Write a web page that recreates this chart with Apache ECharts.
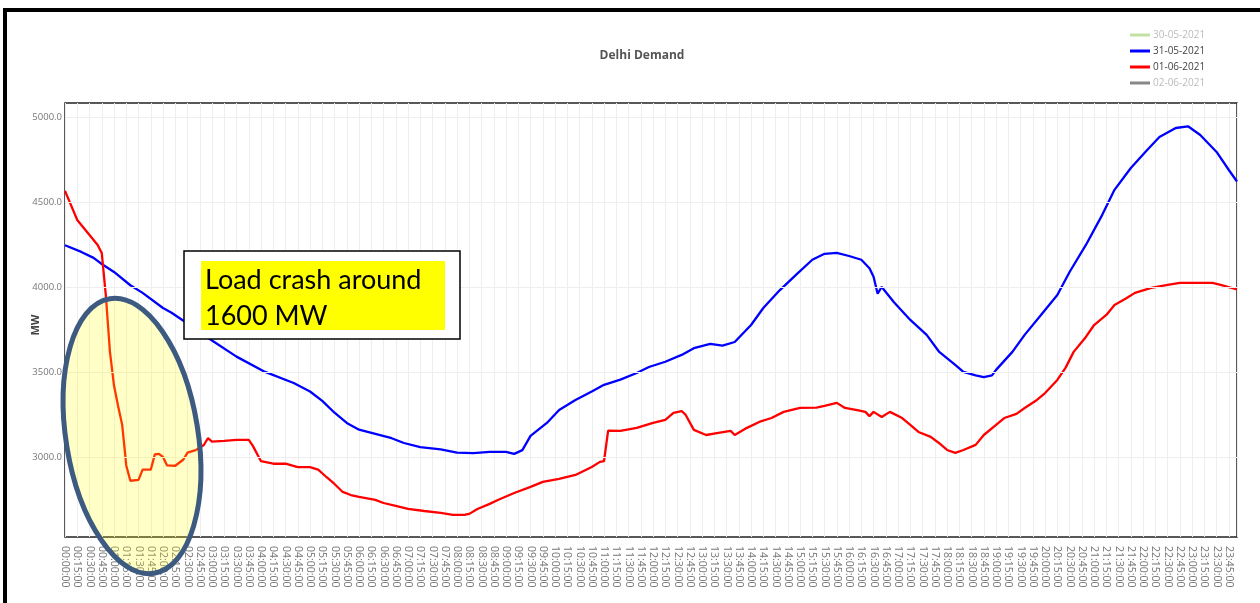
<!DOCTYPE html>
<html><head><meta charset="utf-8">
<script src="https://cdn.jsdelivr.net/npm/echarts@6/dist/echarts.min.js"></script>
<style>html,body{margin:0;padding:0;background:#fff}#c{width:1260px;height:603px}</style>
</head><body><div id="c"></div>
<script>
const seriesNames = ['30-05-2021', '31-05-2021', '01-06-2021', '02-06-2021'];
const yTickValues = [3000, 3500, 4000, 4500, 5000];

const blueTimes = ['00:00','00:20','00:35','00:45','01:00','01:20','01:35','02:00','02:10','02:30','03:00','03:30','04:05','04:40','05:00','05:15','05:30','05:45','06:00','06:20','06:40','06:55','07:15','07:40','08:00','08:20','08:40','09:00','09:10','09:20','09:30','09:50','10:05','10:25','10:45','11:00','11:20','11:40','11:55','12:15','12:35','12:50','13:10','13:25','13:40','14:00','14:15','14:35','14:55','15:15','15:30','15:45','16:00','16:15','16:25','16:30','16:35','16:40','16:55','17:15','17:35','17:50','18:10','18:20','18:35','18:45','18:55','19:00','19:20','19:35','19:55','20:15','20:30','20:50','21:10','21:25','21:45','22:05','22:20','22:40','22:55','23:10','23:30','23:45','23:55'];
const blueValues = [4245,4206,4171,4135,4088,4010,3965,3876,3850,3785,3685,3590,3500,3435,3385,3330,3260,3200,3160,3135,3110,3082,3058,3045,3025,3022,3030,3030,3018,3040,3124,3200,3276,3335,3385,3424,3455,3494,3529,3560,3600,3640,3665,3655,3676,3776,3876,3980,4071,4160,4195,4200,4182,4160,4110,4060,3960,4000,3910,3806,3718,3620,3541,3500,3480,3470,3480,3512,3618,3718,3835,3953,4088,4247,4424,4571,4700,4806,4882,4935,4945,4894,4794,4688,4620];

const redTimes = ['00:00','00:15','00:30','00:40','00:45','00:50','00:55','01:00','01:05','01:10','01:15','01:20','01:30','01:35','01:45','01:50','01:55','02:00','02:05','02:15','02:25','02:30','02:40','02:50','02:55','03:00','03:15','03:30','03:45','03:50','04:00','04:15','04:30','04:45','05:00','05:10','05:20','05:30','05:40','05:50','06:00','06:20','06:30','06:45','07:00','07:20','07:40','07:55','08:10','08:15','08:25','08:40','08:50','09:10','09:30','09:45','10:05','10:25','10:45','10:55','11:00','11:05','11:20','11:40','12:00','12:15','12:25','12:35','12:40','12:50','13:05','13:20','13:35','13:40','13:55','14:10','14:25','14:40','15:00','15:20','15:30','15:45','15:55','16:10','16:20','16:25','16:30','16:40','16:50','17:05','17:15','17:25','17:40','17:50','18:00','18:10','18:20','18:35','18:45','19:00','19:10','19:25','19:35','19:50','20:00','20:15','20:25','20:35','20:50','21:00','21:15','21:25','21:40','21:50','22:10','22:30','22:45','23:05','23:25','23:35','23:55'];
const redValues = [4565,4394,4306,4247,4200,3950,3620,3420,3300,3190,2950,2860,2865,2925,2925,3015,3018,3000,2950,2948,2985,3025,3040,3070,3110,3090,3094,3100,3100,3065,2975,2960,2960,2940,2940,2925,2882,2841,2794,2776,2765,2747,2729,2712,2694,2682,2671,2659,2660,2665,2694,2724,2747,2788,2824,2853,2871,2894,2941,2971,2976,3155,3153,3171,3200,3218,3259,3270,3247,3159,3129,3141,3153,3129,3171,3206,3229,3265,3288,3290,3300,3318,3288,3276,3265,3240,3265,3235,3265,3229,3188,3147,3118,3082,3041,3024,3041,3071,3129,3188,3229,3253,3288,3335,3376,3453,3524,3618,3706,3776,3835,3894,3935,3965,3994,4012,4024,4024,4024,4012,3985];

function toMin(s){const p=s.split(':');return (+p[0])*60+(+p[1]);}
function pad(n){return (n<10?'0':'')+n;}
function fmtMin(v){const h=Math.floor(v/60), m=Math.round(v%60);return pad(h)+':'+pad(m)+':00';}
function pairs(ts, vs){return ts.map((t,i)=>[toMin(t), vs[i]]);}

const chart = echarts.init(document.getElementById('c'), null, {renderer:'canvas'});
const FONT = '"Open Sans", sans-serif';
const option = {
  animation: false,
  backgroundColor: '#fff',
  title: {text: 'Delhi Demand', left: 637, top: 45, textAlign: 'center',
    textStyle: {fontFamily: FONT, fontSize: 12, fontWeight: 'bold', color: '#555'}},
  legend: {
    orient: 'vertical', left: 1130, top: 30, itemGap: 6, padding: 0,
    icon: 'rect', itemWidth: 20, itemHeight: 3, selectedMode: false,
    textStyle: {fontFamily: FONT, fontSize: 10, color: '#444', padding: [0,0,0,-2]},
    data: [
      {name: seriesNames[0], textStyle: {color: '#bbb'}},
      {name: seriesNames[1]},
      {name: seriesNames[2]},
      {name: seriesNames[3], textStyle: {color: '#bbb'}}
    ]
  },
  grid: {left: 65, right: 23, top: 103, bottom: 66, show: true, borderColor: '#222', borderWidth: 1.5, backgroundColor: 'transparent'},
  xAxis: {
    type: 'value', min: 0, max: 1435, interval: 15,
    axisLine: {show: false}, axisTick: {show: false},
    splitLine: {show: true, lineStyle: {color: '#eee', width: 1}},
    axisLabel: {rotate: -90, formatter: fmtMin, showMaxLabel: false, fontFamily: FONT, fontSize: 10.5, color: '#777', margin: 9}
  },
  yAxis: {
    type: 'value', min: 2529, max: 5082,
    axisLine: {show: false}, axisTick: {show: false, customValues: yTickValues},
    splitLine: {show: false},
    axisLabel: {customValues: yTickValues, formatter: v => v.toFixed(1), fontFamily: FONT, fontSize: 9.5, color: '#777', margin: 3}
  },
  series: [
    {name: seriesNames[0], type: 'line', data: [], color: '#c5e0a5', z: 1,
      markLine: {silent: true, symbol: 'none', label: {show: false}, lineStyle: {color: '#eee', width: 1, type: 'solid'},
        data: yTickValues.map(v => ({yAxis: v}))}},
    {name: seriesNames[1], type: 'line', data: pairs(blueTimes, blueValues), color: '#0000ff', showSymbol: false, lineStyle: {width: 2.3}, z: 3},
    {name: seriesNames[2], type: 'line', data: pairs(redTimes, redValues), color: '#ff0000', showSymbol: false, lineStyle: {width: 2.3}, z: 3},
    {name: seriesNames[3], type: 'line', data: [], color: '#888', z: 1}
  ],
  graphic: [
    {type: 'rect', shape: {x: 3, y: 8, width: 1257, height: 4}, style: {fill: '#000'}, z: 100},
    {type: 'rect', shape: {x: 3, y: 8, width: 4, height: 595}, style: {fill: '#000'}, z: 100},
    {type: 'text', x: 36, y: 325, rotation: Math.PI/2, style: {text: 'MW', fontFamily: FONT, fontSize: 11, fontWeight: 'bold', fill: '#444', align: 'center', verticalAlign: 'middle'}, z: 100},
    {type: 'rect', shape: {x: 184, y: 251, width: 276, height: 88}, style: {fill: '#fff', stroke: '#000', lineWidth: 1.5}, z: 100},
    {type: 'rect', shape: {x: 201, y: 261, width: 244, height: 69}, style: {fill: '#ffff00'}, z: 101},
    {type: 'text', x: 205, y: 280, style: {text: 'Load crash around', fontFamily: 'Lato, sans-serif', fontSize: 27, fill: '#000', align: 'left', verticalAlign: 'middle'}, z: 102},
    {type: 'text', x: 205, y: 316, style: {text: '1600 MW', fontFamily: 'Lato, sans-serif', fontSize: 27, fill: '#000', align: 'left', verticalAlign: 'middle'}, z: 102},
    {type: 'ellipse', x: 132, y: 436, rotation: 0.16, shape: {cx: 0, cy: 0, rx: 66, ry: 139},
      style: {fill: 'rgba(255,255,0,0.22)', stroke: '#3d5a80', lineWidth: 5}, z: 103}
  ]
};
chart.setOption(option);
</script></body></html>
